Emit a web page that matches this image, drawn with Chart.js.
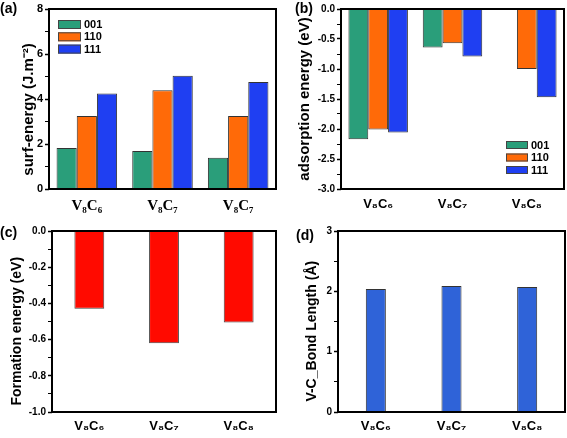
<!DOCTYPE html>
<html>
<head>
<meta charset="utf-8">
<script src="https://cdn.jsdelivr.net/npm/chart.js@4"></script>
<style>
body { margin: 0; background: #fff; }
#wrap { position: relative; width: 567px; height: 438px; overflow: hidden; }
canvas { position: absolute; }
.lab { position: absolute; font: bold 14px "Liberation Sans", Arial, sans-serif; line-height: 1; color: #000; }
</style>
</head>
<body>
<div id="wrap">
  <canvas id="chartA" width="283" height="219" style="left:0;top:0"></canvas>
  <canvas id="chartB" width="284" height="219" style="left:283px;top:0"></canvas>
  <canvas id="chartC" width="283" height="219" style="left:0;top:219px"></canvas>
  <canvas id="chartD" width="284" height="219" style="left:283px;top:219px"></canvas>
  <div class="lab" style="left:0;top:1px">(a)</div>
  <div class="lab" style="left:295px;top:1px">(b)</div>
  <div class="lab" style="left:0;top:225px">(c)</div>
  <div class="lab" style="left:296px;top:228px">(d)</div>
</div>
<script>
// data
const facets = ['001', '110', '111'];
const surfLabels = ['V₈C₆', 'V₈C₇', 'V₈C₇'];
const surf001 = [1.82, 1.69, 1.39];
const surf110 = [3.24, 4.39, 3.24];
const surf111 = [4.25, 5.03, 4.76];

const adsLabels = ['V₈C₆', 'V₈C₇', 'V₈C₈'];
const ads001 = [-2.17, -0.64, null];
const ads110 = [-2.01, -0.57, -1.00];
const ads111 = [-2.06, -0.79, -1.47];

const formLabels = ['V₈C₆', 'V₈C₇', 'V₈C₈'];
const formEnergy = [-0.43, -0.62, -0.505];

const bondLabels = ['V₈C₆', 'V₈C₇', 'V₈C₈'];
const bondLength = [2.04, 2.09, 2.07];

const GREEN = '#2a9e7a', ORANGE = '#ff6a08', BLUE = '#1f3ff2', RED = '#ff0a00', BLUE2 = '#2f63d8';
const SANS = '"Liberation Sans", Arial, sans-serif';
const NB = '\u00a0\u00a0\u00a0\u00a0\u00a0'; // pushes the rotated titles a bit lower, as in the figure

// black box round the plot area
const frame = {
  id: 'frame',
  afterDatasetsDraw(chart) {
    const { ctx, chartArea: a } = chart;
    ctx.save();
    ctx.strokeStyle = '#000';
    ctx.lineWidth = 2;
    ctx.strokeRect(a.left, a.top, a.right - a.left, a.bottom - a.top);
    ctx.restore();
  }
};

// legend drawn inside the plot, one row per dataset
const boxLegend = {
  id: 'boxLegend',
  afterDraw(chart, args, o) {
    if (!o.show) return;
    const { ctx, chartArea: a } = chart;
    const x = o.fromRight ? a.right - o.x : a.left + o.x;
    ctx.save();
    chart.data.datasets.forEach((ds, i) => {
      const y = a.top + o.y + i * o.gap;
      ctx.fillStyle = ds.backgroundColor;
      ctx.fillRect(x, y, o.w, o.h);
      ctx.strokeStyle = '#444';
      ctx.lineWidth = 1;
      ctx.strokeRect(x + 0.5, y + 0.5, o.w - 1, o.h - 1);
      ctx.fillStyle = '#000';
      ctx.font = 'bold 11px ' + SANS;
      ctx.textBaseline = 'middle';
      ctx.fillText(ds.label, x + o.w + 3, y + o.h / 2 + 0.5);
    });
    ctx.restore();
  }
};

function isMajor(v, step) {
  return Math.abs(v / step - Math.round(v / step)) < 1e-6;
}

function yAxis(p) {
  return {
    min: p.min, max: p.max,
    afterFit: s => { s.width = p.width; s.paddingTop = 0; s.paddingBottom = 0; },
    border: { display: false },
    grid: {
      drawOnChartArea: false, drawTicks: true, tickLength: 4, color: '#000',
      tickWidth: c => isMajor(c.tick.value, p.major) ? 1.5 : 1
    },
    ticks: {
      stepSize: p.step, maxTicksLimit: 20, autoSkip: false, padding: 2, color: '#000',
      font: { family: SANS, weight: 'bold', size: p.tickSize || 10 },
      callback: v => isMajor(v, p.major) ? v.toFixed(p.digits) : ''
    },
    title: {
      display: true, text: p.title, color: '#000',
      font: { family: SANS, weight: 'bold', size: p.titleSize, lineHeight: 1 },
      padding: { top: p.titlePad, bottom: 0 }
    }
  };
}

function xAxis(p) {
  return {
    afterFit: s => { s.height = p.height; s.paddingLeft = 0; s.paddingRight = 0; },
    border: { display: false },
    grid: { display: false, drawTicks: false },
    ticks: {
      padding: p.pad, color: '#000', autoSkip: false, maxRotation: 0,
      font: { family: p.family || SANS, weight: 'bold', size: p.size }
    }
  };
}

function barSet(label, data, color) {
  return { label, data, backgroundColor: color, borderColor: '#333', borderWidth: 1 };
}

new Chart(document.getElementById('chartA'), {
  type: 'bar',
  data: {
    labels: surfLabels,
    datasets: [
      barSet(facets[0], surf001, GREEN),
      barSet(facets[1], surf110, ORANGE),
      barSet(facets[2], surf111, BLUE)
    ]
  },
  options: {
    responsive: false, animation: false,
    layout: { padding: { left: 0, top: 9, right: 7, bottom: 0 } },
    datasets: { bar: { categoryPercentage: 0.8, barPercentage: 1.0 } },
    plugins: {
      legend: { display: false }, tooltip: { enabled: false },
      boxLegend: { show: true, x: 9, y: 11, gap: 12.3, w: 23, h: 9 }
    },
    scales: {
      x: xAxis({ height: 30, pad: 8, size: 15, family: '"Liberation Serif", "Times New Roman", serif' }),
      y: yAxis({ min: 0, max: 8, step: 1, major: 2, digits: 0, width: 49, tickSize: 11,
                 title: 'surf-energy (J.m⁻²)' + NB, titleSize: 15, titlePad: 21 })
    }
  },
  plugins: [boxLegend, frame]
});

new Chart(document.getElementById('chartB'), {
  type: 'bar',
  data: {
    labels: adsLabels,
    datasets: [
      barSet(facets[0], ads001, GREEN),
      barSet(facets[1], ads110, ORANGE),
      barSet(facets[2], ads111, BLUE)
    ]
  },
  options: {
    responsive: false, animation: false,
    layout: { padding: { left: 0, top: 9, right: 3, bottom: 0 } },
    datasets: { bar: { categoryPercentage: 0.8, barPercentage: 1.0 } },
    plugins: {
      legend: { display: false }, tooltip: { enabled: false },
      boxLegend: { show: true, fromRight: true, x: 58, y: 132, gap: 12.5, w: 22, h: 8 }
    },
    scales: {
      x: xAxis({ height: 30, pad: 8, size: 13 }),
      y: yAxis({ min: -3, max: 0, step: 0.25, major: 0.5, digits: 1, width: 58,
                 title: 'adsorption energy (eV)', titleSize: 15, titlePad: 14 })
    }
  },
  plugins: [boxLegend, frame]
});

new Chart(document.getElementById('chartC'), {
  type: 'bar',
  data: {
    labels: formLabels,
    datasets: [{ label: 'Formation energy', data: formEnergy, backgroundColor: RED, borderColor: '#444', borderWidth: 1 }]
  },
  options: {
    responsive: false, animation: false,
    layout: { padding: { left: 0, top: 12, right: 7, bottom: 0 } },
    datasets: { bar: { categoryPercentage: 0.4, barPercentage: 1.0 } },
    plugins: { legend: { display: false }, tooltip: { enabled: false } },
    scales: {
      x: xAxis({ height: 26, pad: 7, size: 13 }),
      y: yAxis({ min: -1, max: 0, step: 0.1, major: 0.2, digits: 1, width: 52,
                 title: 'Formation energy (eV)' + NB, titleSize: 14, titlePad: 10 })
    }
  },
  plugins: [frame]
});

new Chart(document.getElementById('chartD'), {
  type: 'bar',
  data: {
    labels: bondLabels,
    datasets: [{ label: 'V-C bond length', data: bondLength, backgroundColor: BLUE2, borderColor: '#333', borderWidth: 1 }]
  },
  options: {
    responsive: false, animation: false,
    layout: { padding: { left: 0, top: 12, right: 2, bottom: 0 } },
    datasets: { bar: { categoryPercentage: 0.265, barPercentage: 1.0 } },
    plugins: { legend: { display: false }, tooltip: { enabled: false } },
    scales: {
      x: xAxis({ height: 26, pad: 7, size: 13 }),
      y: yAxis({ min: 0, max: 3, step: 0.5, major: 1, digits: 0, width: 55,
                 title: 'V-C_Bond Length (Å)' + NB, titleSize: 14, titlePad: 22 })
    }
  },
  plugins: [frame]
});
</script>
</body>
</html>
